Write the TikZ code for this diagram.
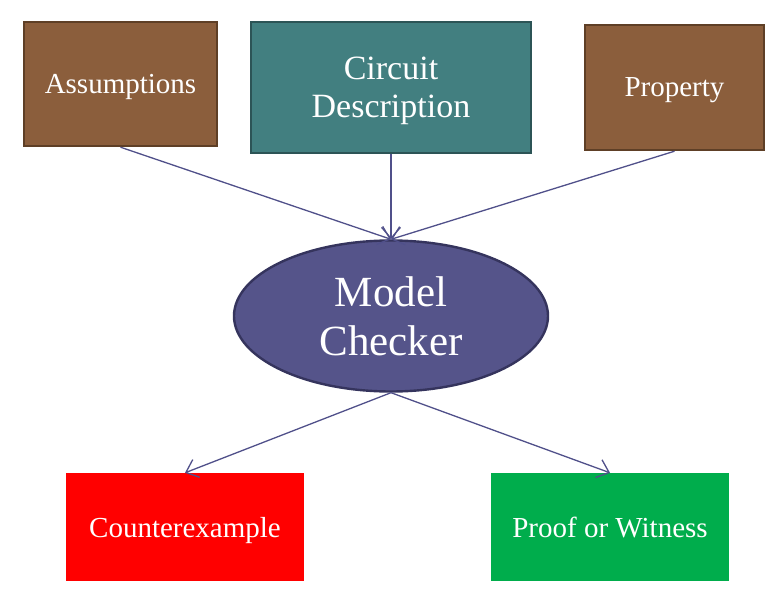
\documentclass[tikz,border=0pt]{standalone}
\usepackage{fontspec}
\setmainfont{Liberation Serif}
\usetikzlibrary{arrows.meta,shapes.geometric}
\definecolor{brownfill}{HTML}{8B5E3C}
\definecolor{browndraw}{HTML}{5E3F26}
\definecolor{tealfill}{HTML}{427F80}
\definecolor{tealdraw}{HTML}{2C5456}
\definecolor{checkfill}{HTML}{55548A}
\definecolor{checkdraw}{HTML}{35345D}
\definecolor{arrowcol}{HTML}{50508A}
\definecolor{proofgreen}{HTML}{00AD4C}
\tikzset{
    inbox/.style={rectangle,line width=2.4pt,text=white,inner sep=0pt,align=center,text depth=0pt},
    outbox/.style={rectangle,text=white,inner sep=0pt,text depth=0pt,minimum width=238pt,minimum height=108pt,font=\fontsize{29}{34}\selectfont},
    link/.style={arrowcol,line width=1.3pt,-{Straight Barb[length=11pt,width=19pt,line width=1.3pt]}}
}
\begin{document}
\begin{tikzpicture}[x=1pt,y=-1pt]
                \useasboundingbox (0,0) rectangle (775,609);
                \node[inbox,fill=brownfill,draw=browndraw,minimum width=193pt,minimum height=124pt,font=\fontsize{29}{34}\selectfont] (assume) at (120.5,84) {Assumptions};
                \node[inbox,fill=tealfill,draw=tealdraw,minimum width=280pt,minimum height=131pt,font=\fontsize{34}{38}\selectfont] (circuit) at (391,87.5) {Circuit\\Description};
                \node[inbox,fill=brownfill,draw=browndraw,minimum width=179pt,minimum height=125pt,font=\fontsize{29}{34}\selectfont] (prop) at (674.5,87.5) {Property};
                \node[ellipse,fill=checkfill,draw=checkdraw,line width=2.4pt,text=white,inner sep=0pt,minimum width=314pt,minimum height=151pt,align=center,font=\fontsize{43}{49}\selectfont] (checker) at (391,316) {Model\\Checker};
                \node[outbox,fill=red] (counter) at (185,527) {Counterexample};
                \node[outbox,fill=proofgreen] (proof) at (610,527) {Proof or Witness};
                \foreach \n in {assume,circuit,prop}{
                    \draw[link] (\n.south) -- (checker.north);
                }
                \foreach \n in {counter,proof}{
                    \draw[link] (checker.south) -- (\n.north);
                }
            \end{tikzpicture}
\end{document}
